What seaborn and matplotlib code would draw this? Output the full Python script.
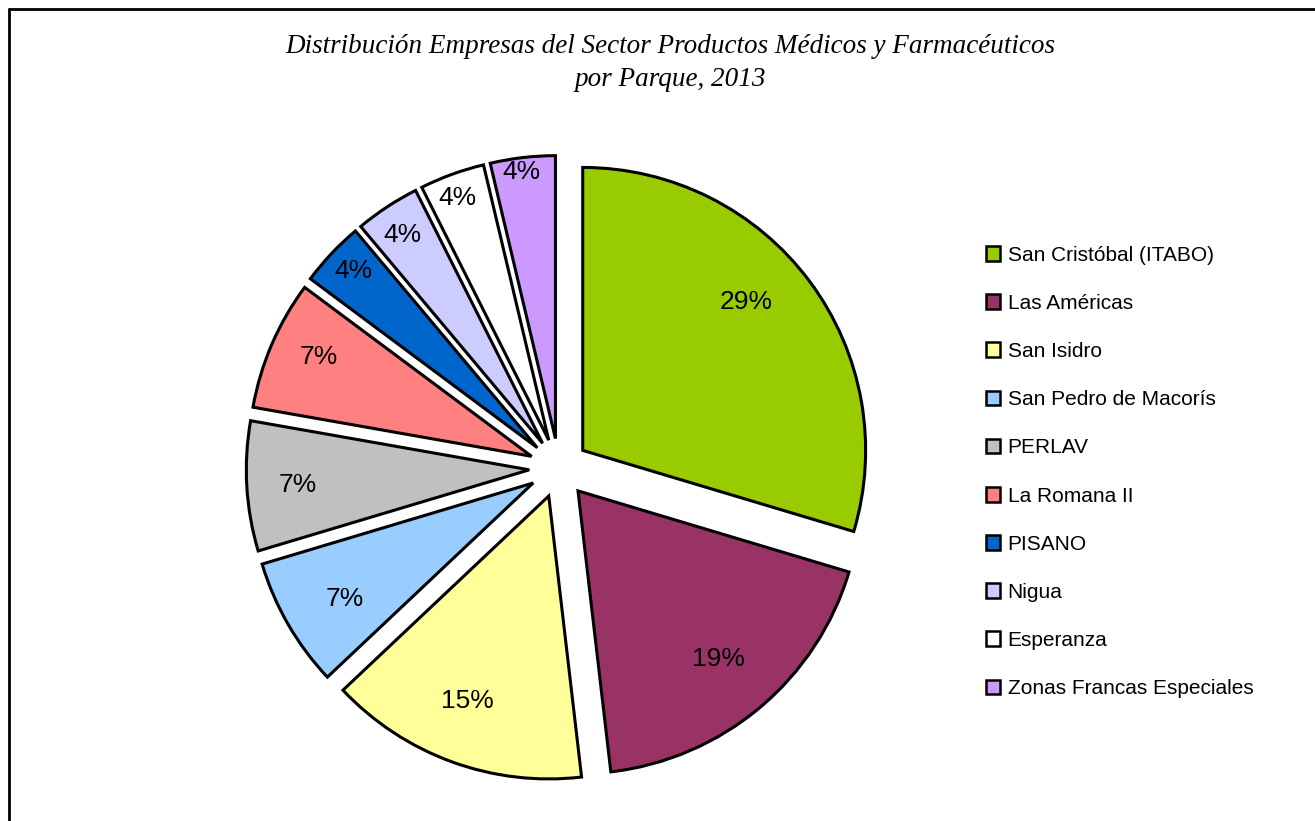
import numpy as np
import matplotlib
matplotlib.use("Agg")
import matplotlib.pyplot as plt
from matplotlib.lines import Line2D
import seaborn as sns

# data
parques = ["San Cristóbal (ITABO)", "Las Américas", "San Isidro", "San Pedro de Macorís",
           "PERLAV", "La Romana II", "PISANO", "Nigua", "Esperanza", "Zonas Francas Especiales"]
empresas = [8, 5, 4, 2, 2, 2, 1, 1, 1, 1]          # slice sizes as drawn
porcentajes = [29, 19, 15, 7, 7, 7, 4, 4, 4, 4]    # labels as printed on the chart
colores = ["#99CC00", "#993366", "#FFFF99", "#99CCFF", "#C0C0C0",
           "#FF8080", "#0066CC", "#CCCCFF", "#FFFFFF", "#CC99FF"]
titulo = "Distribución Empresas del Sector Productos Médicos y Farmacéuticos\npor Parque, 2013"

# label placement per slice (Excel "best fit"): radial distance and angle nudge
dist_etiqueta = [0.78, 0.775, 0.78, 0.78, 0.82, 0.83, 0.90, 0.886, 0.915, 0.95]
giro_etiqueta = [5.5, 0, -1.6, 1.6, 0.5, -1.6, -0.6, 0.6, 0.7, 0.6]

sns.set_style("white")
plt.rcParams["font.family"] = ["Liberation Sans", "DejaVu Sans"]
plt.rcParams["text.color"] = "black"

fig = plt.figure(figsize=(13.15, 8.21), dpi=100)
ax = fig.add_axes([219.4 / 1315, (821 - 807.6) / 821, 679 / 1315, 679 / 821])

wedges, _ = ax.pie(empresas, colors=colores, startangle=90, counterclock=False,
                   explode=[0.105] * len(empresas),
                   wedgeprops=dict(edgecolor="black", linewidth=2.2))
ax.set_xlim(-1.2, 1.2)
ax.set_ylim(-1.2, 1.2)
ax.set_aspect("equal")
ax.axis("off")

for w, p, d, g in zip(wedges, porcentajes, dist_etiqueta, giro_etiqueta):
    ang = np.deg2rad((w.theta1 + w.theta2) / 2 + g)
    cx, cy = w.center
    ax.text(cx + d * np.cos(ang), cy + d * np.sin(ang), f"{p}%",
            ha="center", va="center", fontsize=19, color="black")

leg = fig.legend(wedges, parques, loc="center left", bbox_to_anchor=(967 / 1315, 1 - 472 / 821),
                 frameon=False, fontsize=15, handlelength=0.7, handleheight=0.7,
                 handletextpad=0.35, labelspacing=1.40)
for t in leg.get_texts():
    t.set_color("black")
for h in leg.legend_handles:
    h.set_linewidth(1.8)

fig.text(670 / 1315, 1 - 63 / 821, titulo, ha="center", va="center",
         fontsize=19.5, style="italic", family=["Liberation Serif", "DejaVu Serif"],
         linespacing=1.45, color="black")

# outer frame (top and left edge)
fig.add_artist(Line2D([9 / 1315, 9 / 1315], [0, 1 - 9 / 821], color="black", lw=2))
fig.add_artist(Line2D([9 / 1315, 1], [1 - 9 / 821, 1 - 9 / 821], color="black", lw=2))

fig.savefig("out.png", dpi=100, facecolor="white")
